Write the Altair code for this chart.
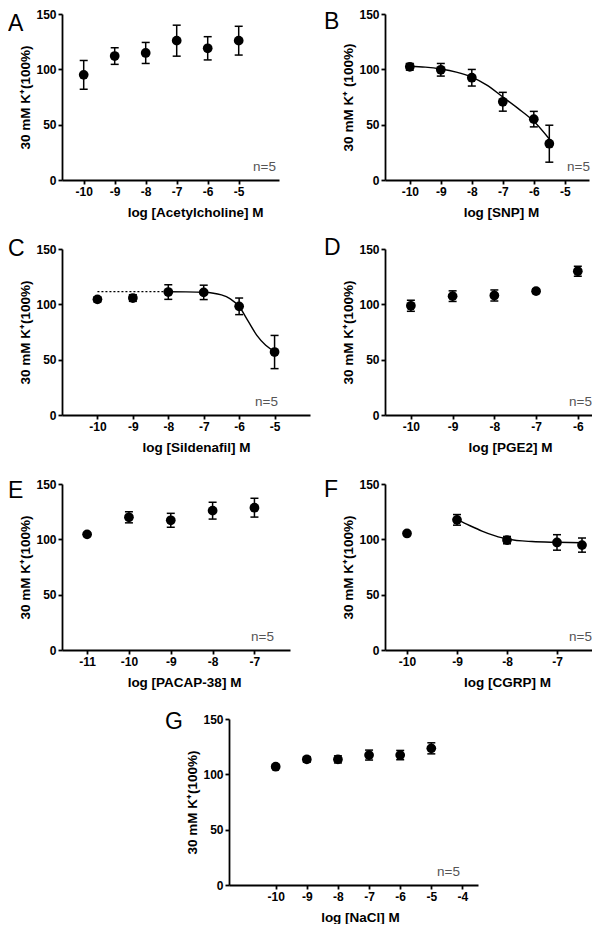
import altair as alt
import pandas as pd

FONT = "Liberation Sans"
N_LABEL = "n=5"
Y_TICKS = [0, 50, 100, 150]

# ---------------- Panel A: Acetylcholine ----------------
a_x = [-10, -9, -8, -7, -6, -5]
a_mean = [95.0, 112.0, 114.8, 125.9, 119.0, 125.9]
a_sem = [13.0, 7.5, 9.5, 14.0, 10.5, 13.0]
a_ticks = [-10, -9, -8, -7, -6, -5]

# ---------------- Panel B: SNP ----------------
b_x = [-10, -9, -8, -7, -6, -5.5]
b_mean = [102.3, 99.6, 92.4, 70.7, 55.0, 32.8]
b_sem = [3.0, 5.7, 7.5, 8.5, 7.0, 16.7]
b_ticks = [-10, -9, -8, -7, -6, -5]
b_curve_x = [-10, -9.5, -9, -8.5, -8, -7.5, -7, -6.5, -6, -5.5]
b_curve_y = [102.8, 102.0, 100.3, 97.5, 93.0, 85.5, 75.0, 64.5, 53.0, 37.0]

# ---------------- Panel C: Sildenafil ----------------
c_x = [-10, -9, -8, -7, -6, -5]
c_mean = [104.5, 105.7, 111.1, 110.8, 98.2, 56.9]
c_sem = [2.3, 3.0, 6.6, 6.5, 7.5, 15.0]
c_ticks = [-10, -9, -8, -7, -6, -5]
c_curve_x = [-8, -7.5, -7, -6.5, -6.25, -6, -5.75, -5.5, -5.25, -5]
c_curve_y = [111.4, 111.3, 110.9, 108.5, 105.0, 98.0, 85.0, 72.0, 63.0, 57.5]
c_dot_x = [-10, -8]
c_dot_y = [111.4, 111.4]

# ---------------- Panel D: PGE2 ----------------
d_x = [-10, -9, -8, -7, -6]
d_mean = [98.7, 107.4, 108.0, 111.9, 129.9]
d_sem = [5.0, 4.8, 5.0, 2.0, 4.5]
d_ticks = [-10, -9, -8, -7, -6]

# ---------------- Panel E: PACAP-38 ----------------
e_x = [-11, -10, -9, -8, -7]
e_mean = [104.5, 119.9, 117.2, 125.9, 128.6]
e_sem = [1.5, 5.0, 6.3, 7.6, 8.5]
e_ticks = [-11, -10, -9, -8, -7]

# ---------------- Panel F: CGRP ----------------
f_x = [-10, -9, -8, -7, -6.5]
f_mean = [105.3, 117.6, 99.3, 97.2, 94.8]
f_sem = [1.0, 4.8, 3.3, 7.0, 6.4]
f_ticks = [-10, -9, -8, -7]
f_curve_x = [-9, -8.75, -8.5, -8.25, -8, -7.5, -7, -6.5]
f_curve_y = [117.8, 112.5, 107.5, 103.3, 100.2, 98.0, 97.3, 96.9]

# ---------------- Panel G: NaCl ----------------
g_x = [-10, -9, -8, -7, -6, -5]
g_mean = [106.9, 113.5, 113.5, 117.4, 117.4, 123.5]
g_sem = [1.5, 2.5, 3.2, 4.5, 4.2, 5.0]
g_ticks = [-10, -9, -8, -7, -6, -5, -4]

YT = "30 mM K\u207a(100%)"
YT_B = "30 mM K\u207a (100%)"

H = 166


def panel(letter, xs, means, sems, xdomain, xticks, xtitle, ytitle, width,
          title_x, letter_dx, letter_dy, n_x, curve=None, dotted=None,
          xrange=None, yoffset=0):
    df = pd.DataFrame({"x": xs, "m": means, "s": sems})
    df["lo"] = df["m"] - df["s"]
    df["hi"] = df["m"] + df["s"]
    sc = dict(domain=xdomain, nice=False, zero=False)
    if xrange is not None:
        sc["range"] = xrange
    xscale = alt.Scale(**sc)
    yscale = alt.Scale(domain=[0, 150], nice=False)
    xaxis = alt.Axis(values=xticks, title=xtitle, labelExpr="'' + datum.value",
                     titleX=title_x, titleY=32, titleAlign="center",
                     titleBaseline="middle", grid=False)
    yaxis = alt.Axis(values=Y_TICKS, title=ytitle, titleX=-37, titleY=H / 2,
                     titleAlign="center", titleBaseline="middle", grid=False,
                     offset=yoffset)
    X = alt.X("x:Q", scale=xscale, axis=xaxis)
    base = alt.Chart(df)
    layers = []
    if dotted is not None:
        ddf = pd.DataFrame({"x": dotted[0], "y": dotted[1]})
        layers.append(alt.Chart(ddf).mark_line(color="black", strokeWidth=1.3,
                                               strokeDash=[2, 2]).encode(
            x=X, y=alt.Y("y:Q", scale=yscale, axis=yaxis)))
    if curve is not None:
        cdf = pd.DataFrame({"x": curve[0], "y": curve[1]})
        layers.append(alt.Chart(cdf).mark_line(color="black", strokeWidth=1.4,
                                               interpolate="monotone").encode(
            x=X, y=alt.Y("y:Q", scale=yscale, axis=yaxis)))
    layers.append(base.mark_rule(color="black", strokeWidth=1.5).encode(
        x=X, y=alt.Y("lo:Q", scale=yscale, axis=yaxis), y2="hi:Q"))
    for f in ("lo", "hi"):
        layers.append(base.mark_tick(color="black", orient="horizontal", size=8,
                                     thickness=1.5, opacity=1).encode(
            x=X, y=alt.Y(f + ":Q", scale=yscale, axis=yaxis)))
    layers.append(base.mark_point(filled=True, size=95, color="black",
                                  opacity=1).encode(
        x=X, y=alt.Y("m:Q", scale=yscale, axis=yaxis)))
    ndf = pd.DataFrame({"t": [N_LABEL]})
    layers.append(alt.Chart(ndf).mark_text(align="right", baseline="middle",
                                           fontSize=13.5, color="#555555",
                                           font=FONT).encode(
        x=alt.value(n_x), y=alt.value(H - 13), text="t:N"))
    return alt.layer(*layers).properties(
        width=width, height=H,
        title=alt.TitleParams(letter, anchor="start", frame="group",
                              orient="top", baseline="top", dx=letter_dx,
                              dy=letter_dy, offset=0, fontSize=23,
                              fontWeight="normal", font=FONT, color="black"))


A = panel("A", a_x, a_mean, a_sem, [-10.7, -3.7], a_ticks,
          "log [Acetylcholine] M", YT, 217, 133, -54, 28, 214)
B = panel("B", b_x, b_mean, b_sem, [-10.8, -4.22], b_ticks,
          "log [SNP] M", YT_B, 204, 116, -61, 26, 205,
          curve=(b_curve_x, b_curve_y))
C = panel("C", c_x, c_mean, c_sem, [-11, -4], c_ticks,
          "log [Sildenafil] M", YT, 248, 134, -54, 18, 216,
          curve=(c_curve_x, c_curve_y), dotted=(c_dot_x, c_dot_y))
D = panel("D", d_x, d_mean, d_sem, [-10.62, -5.66], d_ticks,
          "log [PGE2] M", YT, 207, 125, -61, 17, 207)
E = panel("E", e_x, e_mean, e_sem, [-11.6, -6.15], e_ticks,
          "log [PACAP-38] M", YT, 228, 122, -54, 25, 212)
F = panel("F", f_x, f_mean, f_sem, [-10.44, -6.3], f_ticks,
          "log [CGRP] M", YT, 207, 122, -61, 24, 207,
          curve=(f_curve_x, f_curve_y))
G = panel("G", g_x, g_mean, g_sem, [-11.5, -3.5], g_ticks,
          "log [NaCl] M", YT, 248, 298, 103, 21, 398,
          xrange=[167, 416], yoffset=-167)

chart = alt.concat(A, B, C, D, E, F, G, columns=2, bounds="flush", align="all",
                   spacing={"row": 69, "column": 75}).properties(
    padding=0, background="white"
).configure_view(stroke=None).configure_axis(
    domainColor="black", tickColor="black", labelColor="black",
    titleColor="black", domainWidth=1.8, tickWidth=1.8, tickSize=4,
    labelFont=FONT, titleFont=FONT, labelFontSize=12, labelFontWeight="bold",
    titleFontSize=13.5, titleFontWeight="bold", labelPadding=2
)

chart.save("out.html", embed_options={"renderer": "svg", "actions": False})
